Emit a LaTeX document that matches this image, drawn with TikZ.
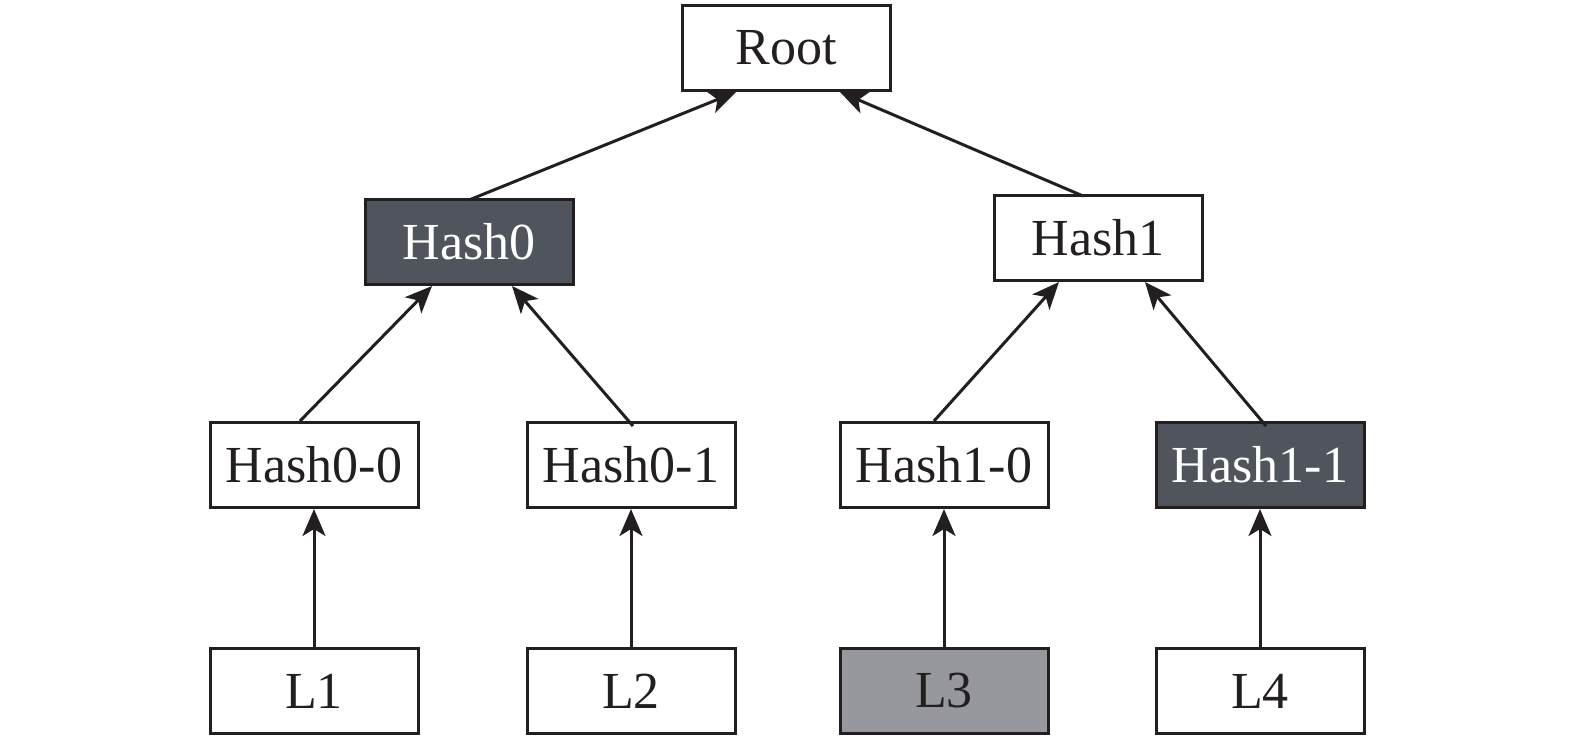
\documentclass[tikz,border=0pt]{standalone}
\usepackage{fontspec}
\setmainfont{Liberation Serif}
\usetikzlibrary{arrows.meta}
\definecolor{darkbox}{HTML}{50545C}
\definecolor{graybox}{HTML}{96989E}
\definecolor{edgecol}{HTML}{231F20}
\tikzset{
  hbox/.style={draw=edgecol, line width=3pt, fill=white, minimum width=208pt, minimum height=85pt,
    inner sep=0pt, font=\fontsize{52}{60}\selectfont, text=edgecol},
  darkhbox/.style={hbox, fill=darkbox, text=white},
  grayhbox/.style={hbox, fill=graybox},
  link/.style={draw=edgecol, line width=3pt, -{Stealth[length=27pt,width=23pt,inset=7pt]}}
}
\begin{document}
\begin{tikzpicture}[x=1pt,y=-1pt]
\useasboundingbox (0,0) rectangle (1575,740);
\node[hbox] (root) at (786,48) {Root};
\node[darkhbox] (h0) at (469,242) {Hash0};
\node[hbox] (h1) at (1098,238) {Hash1};
\node[hbox] (h00) at (314,465) {Hash0-0};
\node[hbox] (h01) at (631,465) {Hash0-1};
\node[hbox] (h10) at (944,465) {Hash1-0};
\node[darkhbox] (h11) at (1260,465) {Hash1-1};
\node[hbox] (l1) at (314,691) {L1};
\node[hbox] (l2) at (631,691) {L2};
\node[grayhbox] (l3) at (944,691) {L3};
\node[hbox] (l4) at (1260,691) {L4};
\draw[link] ([yshift=-2pt]h0.north) -- ([xshift=-50pt]root.south);
\draw[link] ([xshift=-15pt,yshift=-2pt]h1.north) -- ([xshift=54pt]root.south);
\draw[link] ([xshift=-14pt]h00.north) -- ([xshift=-37pt]h0.south);
\draw[link] ([xshift=2pt,yshift=-5pt]h01.north) -- ([xshift=43pt]h0.south);
\draw[link] ([xshift=-10pt]h10.north) -- ([xshift=-39pt]h1.south);
\draw[link] ([xshift=6pt,yshift=-5pt]h11.north) -- ([xshift=47pt]h1.south);
\draw[link] (l1.north) -- (h00.south);
\draw[link] (l2.north) -- (h01.south);
\draw[link] (l3.north) -- (h10.south);
\draw[link] (l4.north) -- (h11.south);
\end{tikzpicture}
\end{document}
